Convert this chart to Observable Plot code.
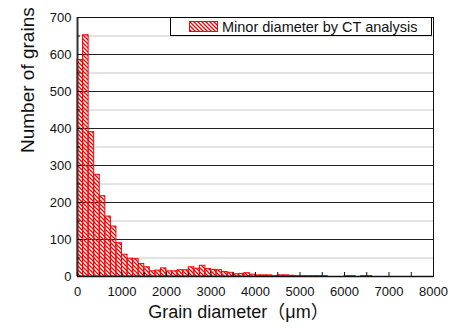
<!DOCTYPE html>
<html>
<head>
<meta charset="utf-8">
<script src="https://cdn.jsdelivr.net/npm/d3@7"></script>
<script src="https://cdn.jsdelivr.net/npm/@observablehq/plot@0.6"></script>
<style>
  body { margin: 0; background: #fff; }
  #chart { position: relative; width: 460px; height: 329px; font-family: "Liberation Sans", Arial, sans-serif; }
  #legend {
    position: absolute; left: 170px; top: 17px; width: 262px; height: 19px;
    border: 1px solid #000; background: #fff; box-sizing: border-box;
    font-size: 14.5px; color: #111; display: flex; align-items: center;
    white-space: nowrap;
  }
  #legend svg { margin-left: 18px; margin-right: 4px; display: block; }
</style>
</head>
<body>
<div id="chart"></div>
<script>
// ---- data ----
const seriesName = "Minor diameter by CT analysis";
const binWidth = 125; // µm per histogram class
const counts = [585, 652, 390, 275, 217, 162, 135, 90, 59, 48,
                47, 34, 25, 14, 16, 22, 14, 14, 17, 17,
                25, 21, 29, 20, 18, 17, 12, 10, 6, 7,
                9, 5, 3, 3, 3, 1, 3, 3, 2, 1,
                1, 1, 1, 1, 1, 0, 0, 0, 1, 1,
                0, 1, 1];
const xTicksLabeled = [0, 1000, 2000, 3000, 4000, 5000, 6000, 7000, 8000];
const xTicksAll = d3.range(0, 8001, 500);
const yTicksMajor = [0, 100, 200, 300, 400, 500, 600, 700];
const yTicksMinor = [50, 150, 250, 350, 450, 550, 650];
const xLabel = "Grain diameter（μm）";
const yLabel = "Number of grains";

const bins = counts.map((c, i) => ({x1: i * binWidth, x2: (i + 1) * binWidth, count: c}));

const RED = "#ff0000";
const FONT = '"Liberation Sans", Arial, sans-serif';

const plot = Plot.plot({
  width: 460,
  height: 329,
  marginLeft: 77,
  marginRight: 27,
  marginTop: 17,
  marginBottom: 53,
  style: {fontFamily: FONT, fontSize: "13px", color: "#111", background: "#fff"},
  x: {domain: [0, 8000]},
  y: {domain: [0, 700]},
  marks: [
    Plot.ruleY(yTicksMinor, {stroke: "#c8c8c8", strokeWidth: 1}),
    Plot.ruleY(yTicksMajor.filter(d => d > 0 && d < 700), {stroke: "#222", strokeWidth: 1}),
    Plot.rectY(bins, {x1: "x1", x2: "x2", y: "count", fill: "url(#hatch)", stroke: RED, strokeWidth: 1}),
    Plot.frame({stroke: "#111", strokeWidth: 1}),
    Plot.ruleX([0], {stroke: "#333", strokeWidth: 2}),
    Plot.ruleY([0], {stroke: "#111", strokeWidth: 1.5}),
    Plot.axisY(yTicksMajor, {tickSize: -5, tickPadding: 11, label: null, fontSize: 13, stroke: "#111", tickFormat: d => String(d)}),
    Plot.axisY(yTicksMinor, {tickSize: -3, text: null, label: null, stroke: "#111"}),
    Plot.axisX(xTicksAll, {tickSize: -4, text: null, label: null, stroke: "#111"}),
    Plot.axisX(xTicksLabeled, {tickSize: 0, tickPadding: 10, label: null, fontSize: 13, tickFormat: d => String(d)}),
    Plot.text([xLabel], {frameAnchor: "bottom", dx: -17, dy: 41, fontSize: 18, fill: "#111",
      fontFamily: '"Liberation Sans", "Noto Sans CJK JP", sans-serif'}),
    Plot.text([yLabel], {frameAnchor: "left", rotate: -90, dx: -50, dy: 6, fontSize: 19, fill: "#111"})
  ]
});

// hatch pattern
const defs = d3.select(plot).insert("defs", ":first-child");
const pat = defs.append("pattern").attr("id", "hatch").attr("patternUnits", "userSpaceOnUse")
  .attr("width", 4).attr("height", 4);
pat.append("path").attr("d", "M-1,-1L5,5M-1,3L1,5M3,-1L5,1")
  .attr("stroke", RED).attr("stroke-width", 1.3).attr("fill", "none");

const chart = document.getElementById("chart");
chart.appendChild(plot);

// legend
const legend = document.createElement("div");
legend.id = "legend";
legend.innerHTML = `<svg width="29" height="11">
  <defs><pattern id="hatchL" patternUnits="userSpaceOnUse" width="4" height="4">
  <path d="M-1,-1L5,5M-1,3L1,5M3,-1L5,1" stroke="${RED}" stroke-width="1.3" fill="none"/></pattern></defs>
  <rect x="0.5" y="0.5" width="28" height="10" fill="url(#hatchL)" stroke="${RED}" stroke-width="1"/></svg>`;
const span = document.createElement("span");
span.textContent = seriesName;
legend.appendChild(span);
chart.appendChild(legend);
</script>
</body>
</html>
